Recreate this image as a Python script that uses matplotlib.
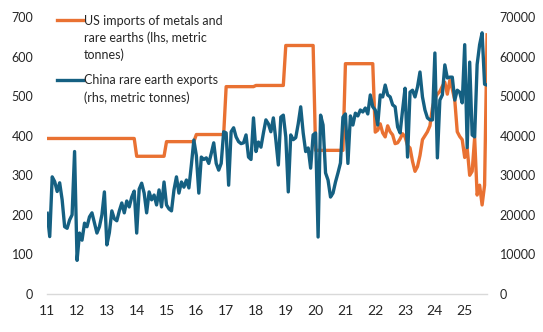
import matplotlib
matplotlib.use("Agg")
import matplotlib.pyplot as plt
from matplotlib.lines import Line2D
import numpy as np

plt.rcParams['font.family'] = ['Lato', 'DejaVu Sans']

# US imports of metals and rare earths (lhs, metric tonnes)
# annual figures 2011-2021 (shown flat across each year), monthly from 2022
us_annual_years = [2011, 2012, 2013, 2014, 2015, 2016, 2017, 2018, 2019, 2020, 2021]
us_annual = [393, 393, 393, 348, 385, 403, 524, 527, 628, 363, 582]
us_monthly = [
    409, 414, 430, 407, 397, 425, 410, 402, 380, 382, 392, 405,   # 2022
    397, 375, 369, 335, 310, 322, 350, 390, 400, 410, 425, 470,   # 2023
    495, 505, 512, 525, 535, 505, 540, 518, 490, 410, 398, 390,   # 2024
    345, 368, 300, 310, 395, 250, 275, 225, 275, 655,             # 2025
]

# China rare earth exports (rhs, thousand metric tonnes), monthly Jan 2011 - Oct 2025
china_exports_k = [
    20.4, 14.5, 29.6, 28.4, 25.9, 28.1, 23.8, 17.0, 16.6, 18.7, 20.0, 36.0,  # 2011
    8.5, 15.4, 13.6, 17.9, 17.0, 19.5, 20.5, 17.9, 15.4, 17.0, 20.0, 25.8,   # 2012
    12.4, 15.5, 21.0, 19.0, 18.5, 21.0, 23.0, 20.5, 23.5, 22.0, 24.5, 26.0,  # 2013
    15.4, 26.5, 28.0, 25.5, 20.5, 25.8, 23.8, 25.0, 22.5, 26.3, 22.0, 28.3,  # 2014
    22.5, 21.5, 21.0, 26.3, 29.6, 25.5, 28.3, 27.0, 28.8, 26.8, 32.6, 38.9,  # 2015
    35.0, 25.5, 34.6, 34.0, 34.4, 33.0, 35.5, 38.2, 33.0, 31.3, 33.0, 41.0,  # 2016
    40.7, 27.5, 41.0, 42.0, 39.7, 38.5, 38.0, 38.2, 40.2, 34.6, 34.0, 44.5,  # 2017
    36.0, 38.4, 37.1, 40.7, 44.0, 43.0, 41.0, 44.5, 38.9, 32.6, 44.7, 45.2,  # 2018
    39.7, 25.8, 40.2, 39.0, 39.5, 43.0, 47.3, 40.7, 36.0, 36.9, 31.8, 40.2,  # 2019
    40.7, 14.4, 45.2, 42.7, 30.6, 28.8, 24.5, 25.5, 28.3, 30.6, 33.1, 44.7,  # 2020
    45.5, 33.0, 45.0, 42.7, 45.7, 45.0, 46.5, 46.0, 47.0, 45.5, 50.3, 47.3,  # 2021
    46.5, 42.7, 50.3, 49.8, 52.8, 50.3, 49.8, 47.8, 47.3, 42.2, 40.7, 46.5,  # 2022
    52.0, 34.6, 51.0, 51.5, 49.8, 52.3, 56.1, 49.8, 46.5, 44.5, 44.0, 44.0,  # 2023
    60.9, 34.4, 49.0, 50.3, 57.9, 54.6, 54.8, 54.8, 49.0, 51.5, 51.0, 48.3,  # 2024
    63.0, 37.0, 58.6, 40.2, 39.7, 58.0, 63.0, 66.0, 53.0, 52.8,              # 2025
]

tick_years = list(range(2011, 2026))
tick_labels = [str(y % 100) for y in tick_years]

legend_labels = ['US imports of metals and\nrare earths (lhs, metric\ntonnes)',
                 'China rare earth exports\n(rhs, metric tonnes)']

us_imports = np.concatenate([np.repeat(us_annual, 12), us_monthly])
china_exports = np.array(china_exports_k) * 1000
n = len(china_exports)
x = 2011 + np.arange(n) / 12.0

orange = '#E97132'
blue = '#156082'
W, H = 543, 332

fig = plt.figure(figsize=(W / 100, H / 100), dpi=100)
ax = fig.add_axes([0.087, 0.1145, 0.81, 0.8343])
ax2 = ax.twinx()

ax.plot(x, us_imports, color=orange, lw=2.4, solid_joinstyle='round')
ax2.plot(x, china_exports, color=blue, lw=2.4, solid_joinstyle='round')

ax.set_xlim(x[0], x[-1])
ax.set_ylim(0, 700)
ax2.set_ylim(0, 70000)
ax.set_yticks(np.arange(0, 701, 100))
ax2.set_yticks(np.arange(0, 70001, 10000))
ax.set_xticks(tick_years)
ax.set_xticklabels(tick_labels)

for a in (ax, ax2):
    for s in a.spines.values():
        s.set_visible(False)
ax.spines['bottom'].set_visible(True)
ax.spines['bottom'].set_color('#D9D9D9')
ax.spines['bottom'].set_linewidth(1)

ax.tick_params(axis='y', length=0, pad=10, labelsize=9, labelcolor='#262626')
ax2.tick_params(axis='y', length=0, pad=9, labelsize=9, labelcolor='#262626')
ax.tick_params(axis='x', length=0, pad=8, labelsize=10, labelcolor='#262626')

# legend drawn by hand so the key line sits on the first text line (Excel style)
key_rows = [20, 80]       # pixel row of the first text line of each entry
block_centres = [38, 89]  # pixel row of the middle of each text block
for colour, label, row, mid in zip([orange, blue], legend_labels, key_rows, block_centres):
    fig.add_artist(Line2D([57 / W, 83 / W], [1 - row / H, 1 - row / H],
                          color=colour, lw=2.4, transform=fig.transFigure))
    fig.text(84 / W, 1 - mid / H, label, ha='left', va='center', fontsize=9,
             linespacing=1.45, color='#262626')

fig.savefig('out.png', dpi=100)
